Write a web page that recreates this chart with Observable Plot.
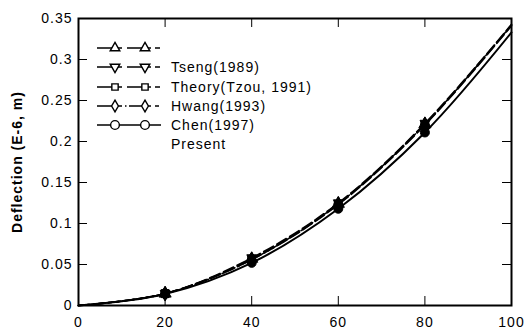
<!DOCTYPE html>
<html><head><meta charset="utf-8">
<script src="https://cdn.jsdelivr.net/npm/d3@7"></script>
<script src="https://cdn.jsdelivr.net/npm/@observablehq/plot@0.6"></script>
<style>
body{margin:0;background:#fff}
#wrap{position:relative;width:526px;height:333px;font-family:"Liberation Sans",Arial,sans-serif;color:#000}
#wrap > svg text{letter-spacing:1px}
#ytitle{position:absolute;left:17px;top:162px;transform:translate(-50%,-50%) rotate(-90deg);white-space:nowrap;font-weight:bold;font-size:14px;letter-spacing:1px}
.lrow{position:absolute;left:95px;height:18px;display:flex;align-items:center}
.lrow span{font-size:14px;letter-spacing:1px;margin-left:6px;white-space:nowrap}
</style></head><body><div id="wrap"></div>
<script>
// ---- data ----
const xValues = [0, 20, 40, 60, 80, 100];
const seriesA = [0, 0.0145, 0.057, 0.124, 0.221, 0.342]; // triangle up, dashed
const seriesB = [0, 0.0145, 0.058, 0.125, 0.222, 0.343]; // triangle down, dashed
const seriesC = [0, 0.0145, 0.056, 0.123, 0.220, 0.341]; // square, dashed
const seriesD = [0, 0.0145, 0.056, 0.124, 0.221, 0.342]; // diamond, dash-dot
const seriesE = [0, 0.0140, 0.052, 0.118, 0.211, 0.333]; // circle, solid
const legendLabels = ["", "Tseng(1989)", "Theory(Tzou, 1991)", "Hwang(1993)", "Chen(1997)", "Present"];
const xTicks = [0, 20, 40, 60, 80, 100];
const yTicks = [0, 0.05, 0.1, 0.15, 0.2, 0.25, 0.3, 0.35];
const yTitle = "Deflection (E-6, m)";

// ---- styles ----
const triDown = {draw(ctx, size) { const s = Math.sqrt(size / 1.3); ctx.moveTo(0, s*0.8); ctx.lineTo(s*0.7, -s*0.45); ctx.lineTo(-s*0.7, -s*0.45); ctx.closePath(); }};
const styles = [
  {values: seriesA, symbol: "triangle", dash: "11,4", sw: 1.6},
  {values: seriesB, symbol: triDown, dash: "11,4", sw: 1.6},
  {values: seriesC, symbol: "square", dash: "11,4", sw: 1.6},
  {values: seriesD, symbol: "diamond", dash: "9,3,2,3", sw: 1.6},
  {values: seriesE, symbol: "circle", dash: null, sw: 2}
];

const W = 526, H = 333, mL = 78, mR = 15, mT = 18, mB = 28;
const pW = W - mL - mR, pH = H - mT - mB, tk = 9;

const marks = [];
styles.forEach((s, i) => {
  const rows = xValues.map((x, j) => ({x, y: s.values[j]}));
  marks.push(Plot.line(rows, {x: "x", y: "y", curve: "catmull-rom", stroke: "black", strokeWidth: s.sw, strokeDasharray: s.dash}));
});
styles.forEach((s, i) => {
  const rows = xValues.map((x, j) => ({x, y: s.values[j]})).filter(d => d.x > 0 && d.x < 100);
  marks.push(Plot.dot(rows, {x: "x", y: "y", symbol: () => s.symbol, r: 4.5, fill: "black", stroke: "black", strokeWidth: 1}));
});
const yIn = yTicks.filter(v => v > 0 && v < 0.35);
const xIn = xTicks.filter(v => v > 0 && v < 100);
marks.push(
  Plot.tickY(yIn, {y: d => d, insetRight: pW - tk, stroke: "black", strokeWidth: 1}),
  Plot.tickY(yIn, {y: d => d, insetLeft: pW - tk, stroke: "black", strokeWidth: 1}),
  Plot.tickX(xIn, {x: d => d, insetTop: pH - tk, stroke: "black", strokeWidth: 1}),
  Plot.tickX(xIn, {x: d => d, insetBottom: pH - tk, stroke: "black", strokeWidth: 1}),
  Plot.axisY({ticks: yTicks, tickSize: 0, tickPadding: 6, tickFormat: d => String(d), label: null}),
  Plot.axisX({ticks: xTicks, tickSize: 0, tickPadding: 12, tickFormat: d => String(d), label: null}),
  Plot.frame({stroke: "black", strokeWidth: 2})
);

const chart = Plot.plot({
  width: W, height: H,
  marginLeft: mL, marginRight: mR, marginTop: mT, marginBottom: mB,
  x: {domain: [0, 100]},
  y: {domain: [0, 0.35]},
  style: {fontFamily: '"Liberation Sans", Arial, sans-serif', fontSize: "14px", color: "black", background: "white", overflow: "visible"},
  marks
});
const wrap = document.getElementById("wrap");
wrap.appendChild(chart);

const t = document.createElement("div");
t.id = "ytitle"; t.textContent = yTitle;
wrap.appendChild(t);

// ---- legend ----
const rowY = [48, 67, 87, 106, 125, 144];
const legendSymbols = [d3.symbolTriangle, "down", d3.symbolSquare, d3.symbolDiamond, d3.symbolCircle];
legendLabels.forEach((lab, i) => {
  const row = document.createElement("div");
  row.className = "lrow";
  row.style.top = (rowY[i] - 9) + "px";
  const ns = "http://www.w3.org/2000/svg";
  const svg = document.createElementNS(ns, "svg");
  svg.setAttribute("width", 70); svg.setAttribute("height", 18);
  if (i < 5) {
    const p = document.createElementNS(ns, "path");
    let d;
    if (i === 4) d = "M2,9H66";
    else if (i === 3) d = "M2,9H27M30,9H31.5M34,9H56M60,9H64";
    else d = "M2,9H27M32,9H56M60,9H65";
    p.setAttribute("d", d); p.setAttribute("stroke", "black"); p.setAttribute("stroke-width", 1.6); p.setAttribute("fill", "none");
    svg.appendChild(p);
    [20, 50].forEach(cx => {
      const sp = document.createElementNS(ns, "path");
      let sym = legendSymbols[i], rot = 0;
      if (sym === "down") { sym = d3.symbolTriangle; rot = 180; }
      sp.setAttribute("d", d3.symbol(sym, i === 4 ? 60 : 40)());
      sp.setAttribute("transform", `translate(${cx},9) rotate(${rot})`);
      sp.setAttribute("fill", "white"); sp.setAttribute("stroke", "black"); sp.setAttribute("stroke-width", 1.4);
      svg.appendChild(sp);
    });
  }
  row.appendChild(svg);
  const s = document.createElement("span");
  s.textContent = lab;
  row.appendChild(s);
  wrap.appendChild(row);
});
</script></body></html>
